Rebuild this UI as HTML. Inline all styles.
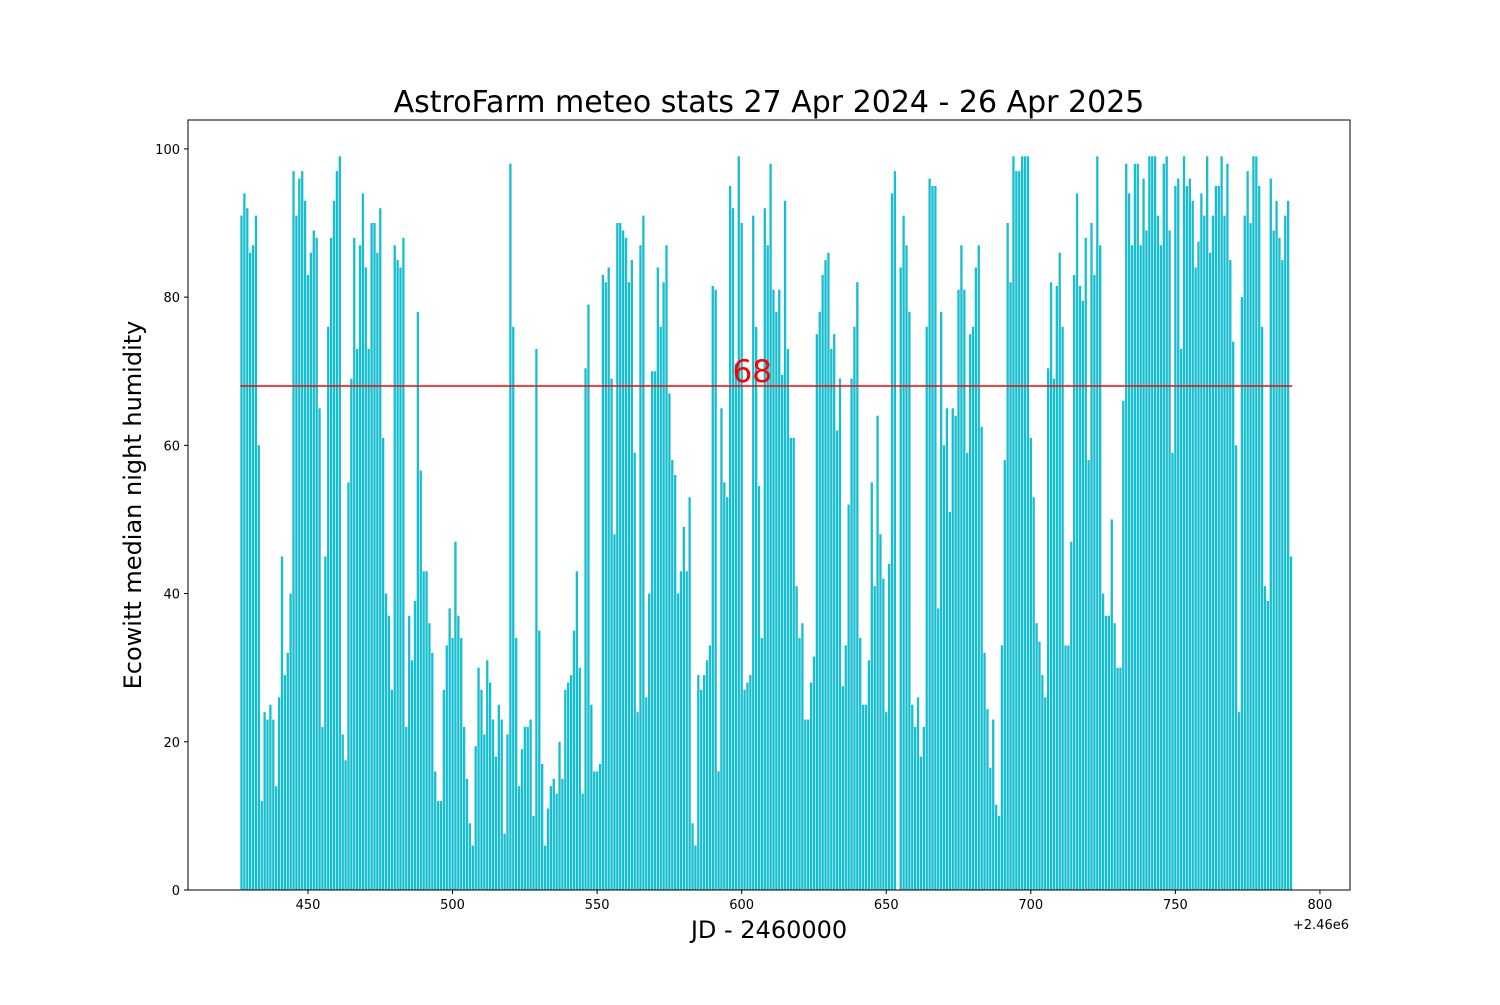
<!DOCTYPE html>
<html><head><meta charset="utf-8"><style>
body{margin:0;background:#fff}
svg{font-family:"DejaVu Sans","Liberation Sans",sans-serif}
</style></head><body>
<svg id="chart" width="1500" height="1000" xmlns="http://www.w3.org/2000/svg">
<rect width="1500" height="1000" fill="#fff"/>
<text x="769" y="112" font-size="30" text-anchor="middle">AstroFarm meteo stats 27 Apr 2024 - 26 Apr 2025</text>
<g id="bars"></g>
<g id="ref"></g>
<rect x="188" y="120" width="1162" height="770" fill="none" stroke="#000" stroke-width="1"/>
<g id="xt"></g>
<g id="yt"></g>
<text x="769" y="938" font-size="24" text-anchor="middle">JD - 2460000</text>
<text x="1349" y="929" font-size="13" text-anchor="end">+2.46e6</text>
<text x="0" y="0" font-size="24" text-anchor="middle" transform="translate(141,505) rotate(-90)">Ecowitt median night humidity</text>
</svg>
<script>
const startDay = 427;
const humidity = [91,94,92,86,87,91,60,12,24,23,25,23,14,26,45,29,32,40,97,91,96,97,93,83,86,89,88,65,22,45,76,88,93,97,99,21,17.5,55,69,88,73,87,94,84,73,90,90,86,92,61,40,
37,27,87,85,84,88,22,37,31,39,78,56.6,43,43,36,32,16,12,12,27,33,38,34,47,37,34,22,15,9,6,19.4,30,27,21,31,28,23,18,25,23,7.6,21,98,76,34,14,19,22,22,23,10,73,35,17,
6,11,14,15,13,20,15,27,28,29,35,43,30,13,70.4,79,25,16,16,17,83,82,84,69,48,90,90,89,88,82,85,59,24,87,91,26,40,70,70,84,76,82,87,67,58,56,40,43,49,43,53,9,6,
29,27,29,31,33,81.5,81,16,65,55,53,95,92,71,99,90,27,28,29,91,76,54.5,34,92,87,98,81,78,81,69.5,93,73,61,61,41,34,36,23,23,28,31.5,75,78,83,85,86,73,75,62,69,27.5,
33,52,69,76,82,34,25,25,31,55,41,64,48,42,24,44,94,97,0,84,91,87,78,25,22,26,18,22,76,96,95,95,38,78,60,65,51,65,64,81,87,81,59,75,76,84,87,62.5,32,24.4,16.5,23,11.5,
10,33,58,90,82,99,97,97,99,99,99,61,53,36,33.5,29,26,70.4,82,69,81.5,86,76,33,33,47,83,94,81.5,79.5,88,58,90,83,99,87,40,37,37,50,36,30,30,66,98,94,87,98,98,87,96,89,
99,99,99,91,87,98,99,89,59,95,96,73,99,95,96,93,84,87.5,94,91,99,86,91,95,95,99,91,98,85,74,60,24,80,91,97,90,99,99,95,76,41,39,96,89,93,88,85,91,93,45];
const medianValue = [68];
const xTicks = [450,500,550,600,650,700,750,800];
const yTicks = [0,20,40,60,80,100];

const NS="http://www.w3.org/2000/svg";
const X0=188,X1=1350,Y0=890,Y1=120;
const xmin=408.5,xmax=810.4,ymin=0,ymax=103.9;
const sx=d=>X0+(d-xmin)/(xmax-xmin)*(X1-X0);
const sy=v=>Y0-(v-ymin)/(ymax-ymin)*(Y0-Y1);
function mk(tag,attrs,parent){const e=document.createElementNS(NS,tag);for(const k in attrs)e.setAttribute(k,attrs[k]);parent.appendChild(e);return e;}

const bars=document.getElementById('bars');
humidity.forEach((v,i)=>{
  const d=startDay+i;
  const r=mk('rect',{x:sx(d-0.4),y:sy(v),width:sx(d+0.4)-sx(d-0.4),height:sy(0)-sy(v),fill:'#17becf'},bars);
  
  
});

const ref=document.getElementById('ref');
const lastDay=startDay+humidity.length-1;
const ln=mk('line',{x1:sx(startDay-0.4),x2:sx(lastDay+0.4),y1:sy(medianValue[0]),y2:sy(medianValue[0]),stroke:'#ff0000','stroke-width':1.5},ref);


const lt=mk('text',{x:(sx(startDay)+sx(lastDay))/2-14,y:sy(medianValue[0])-4,'font-size':31,fill:'#ff0000','text-anchor':'middle'},ref);
lt.textContent=String(medianValue[0]);



const xt=document.getElementById('xt');
xTicks.forEach(t=>{
  const x=sx(t);
  const tk=mk('line',{x1:x,x2:x,y1:Y0,y2:Y0+4,stroke:'#000'},xt);
  
  
  const tx=mk('text',{x:x,y:Y0+19,'font-size':13,'text-anchor':'middle'},xt);
  tx.textContent=t;
  
  
});
const yt=document.getElementById('yt');
yTicks.forEach(t=>{
  const y=sy(t);
  const tk=mk('line',{x1:X0-4,x2:X0,y1:y,y2:y,stroke:'#000'},yt);
  
  
  const tx=mk('text',{x:X0-8,y:y+5,'font-size':13,'text-anchor':'end'},yt);
  tx.textContent=t;
  
  
});
</script>
</body></html>
